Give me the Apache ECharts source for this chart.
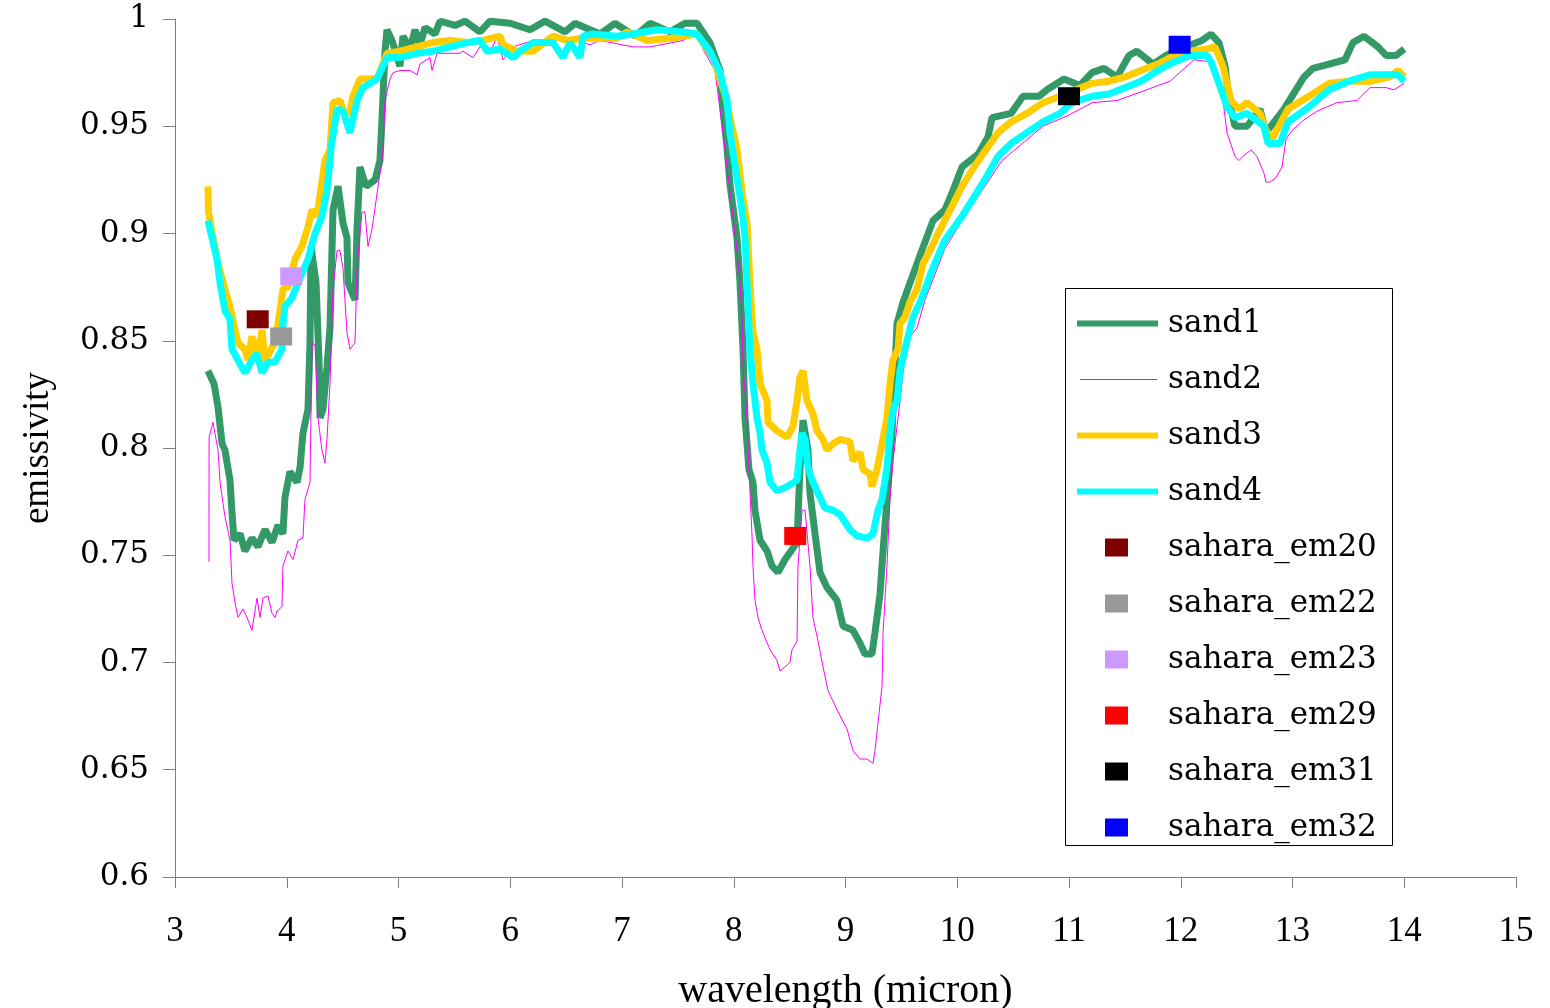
<!DOCTYPE html>
<html>
<head>
<meta charset="utf-8">
<title>sand emissivity</title>
<script src="https://cdn.jsdelivr.net/npm/echarts@6/dist/echarts.min.js"></script>
<style>
  html, body { margin: 0; padding: 0; background: #fff; }
  #chart { width: 1550px; height: 1008px; }
</style>
</head>
<body>
<div id="chart"></div>
<script>
// [wavelength (micron), emissivity]
const sand1 = [[3.295,.836],[3.349,.830],[3.385,.819],[3.421,.802],[3.447,.799],[3.492,.785],[3.510,.770],[3.528,.757],[3.582,.760],[3.626,.752],[3.689,.758],[3.743,.754],[3.805,.762],[3.868,.756],[3.922,.764],[3.966,.760],[3.984,.777],[4.029,.789],[4.092,.784],[4.119,.791],[4.145,.807],[4.190,.818],[4.208,.849],[4.217,.894],[4.262,.877],[4.289,.840],[4.298,.814],[4.324,.818],[4.360,.838],[4.387,.856],[4.414,.911],[4.459,.922],[4.503,.905],[4.539,.898],[4.548,.877],[4.611,.869],[4.629,.902],[4.655,.931],[4.709,.922],[4.790,.925],[4.834,.934],[4.852,.953],[4.879,.985],[4.897,.995],[4.942,.990],[5.013,.978],[5.040,.992],[5.103,.986],[5.148,.995],[5.192,.988],[5.237,.996],[5.327,.993],[5.371,.999],[5.506,.997],[5.595,.999],[5.729,.994],[5.819,.999],[5.998,.998],[6.177,.995],[6.311,.999],[6.490,.994],[6.579,.998],[6.803,.993],[6.937,.998],[7.116,.992],[7.251,.998],[7.430,.994],[7.564,.998],[7.671,.998],[7.787,.989],[7.877,.976],[7.904,.958],[7.940,.940],[7.966,.923],[8.029,.898],[8.056,.877],[8.083,.846],[8.101,.814],[8.136,.790],[8.172,.784],[8.190,.771],[8.235,.757],[8.298,.752],[8.342,.745],[8.396,.742],[8.459,.748],[8.566,.756],[8.593,.791],[8.620,.813],[8.664,.799],[8.682,.779],[8.727,.760],[8.772,.742],[8.834,.735],[8.924,.729],[8.978,.717],[9.067,.715],[9.130,.709],[9.174,.704],[9.237,.704],[9.264,.714],[9.309,.732],[9.336,.752],[9.371,.776],[9.416,.807],[9.461,.858],[9.515,.868],[9.577,.877],[9.676,.891],[9.783,.906],[9.890,.911],[9.962,.920],[10.043,.931],[10.186,.937],[10.275,.945],[10.311,.954],[10.481,.956],[10.588,.964],[10.732,.964],[10.803,.967],[10.955,.972],[11.098,.969],[11.206,.975],[11.313,.977],[11.430,.973],[11.537,.983],[11.608,.985],[11.752,.979],[11.868,.983],[11.993,.986],[12.190,.990],[12.271,.993],[12.342,.989],[12.396,.978],[12.432,.962],[12.485,.950],[12.593,.950],[12.709,.958],[12.763,.947],[12.924,.958],[13.103,.973],[13.183,.977],[13.327,.979],[13.470,.981],[13.541,.989],[13.640,.992],[13.765,.987],[13.837,.983],[13.926,.983],[14.0,.986]]

const sand2 = [[3.304,.747],[3.305,.805],[3.340,.812],[3.385,.799],[3.403,.784],[3.447,.768],[3.492,.757],[3.510,.737],[3.537,.728],[3.564,.721],[3.608,.725],[3.644,.721],[3.689,.715],[3.716,.724],[3.734,.730],[3.761,.721],[3.787,.730],[3.832,.731],[3.868,.723],[3.895,.721],[3.913,.724],[3.957,.726],[3.966,.745],[4.011,.752],[4.056,.748],[4.101,.757],[4.145,.758],[4.163,.776],[4.208,.784],[4.226,.849],[4.253,.848],[4.280,.814],[4.315,.799],[4.342,.793],[4.360,.804],[4.387,.830],[4.414,.874],[4.450,.892],[4.477,.892],[4.503,.884],[4.521,.869],[4.539,.854],[4.566,.846],[4.611,.849],[4.629,.884],[4.673,.910],[4.700,.910],[4.727,.894],[4.763,.902],[4.790,.912],[4.817,.922],[4.852,.934],[4.861,.939],[4.879,.962],[4.924,.972],[4.951,.975],[5.013,.976],[5.103,.976],[5.166,.974],[5.192,.979],[5.282,.982],[5.300,.976],[5.345,.984],[5.550,.984],[5.577,.985],[5.667,.982],[5.729,.987],[5.819,.984],[5.881,.992],[5.935,.981],[6.025,.987],[6.204,.990],[6.266,.989],[6.508,.991],[6.714,.988],[6.803,.990],[7.098,.987],[7.251,.987],[7.546,.990],[7.671,.994],[7.725,.986],[7.832,.976],[7.904,.947],[7.940,.931],[7.993,.908],[8.029,.892],[8.056,.877],[8.074,.861],[8.083,.838],[8.119,.814],[8.136,.790],[8.163,.760],[8.172,.745],[8.190,.729],[8.217,.721],[8.253,.715],[8.324,.706],[8.387,.701],[8.414,.696],[8.459,.698],[8.503,.700],[8.521,.706],[8.566,.710],[8.575,.745],[8.611,.771],[8.638,.771],[8.682,.745],[8.709,.721],[8.754,.710],[8.799,.698],[8.843,.687],[8.924,.678],[9.013,.669],[9.067,.659],[9.130,.655],[9.192,.655],[9.246,.653],[9.264,.659],[9.291,.672],[9.327,.689],[9.336,.714],[9.371,.745],[9.398,.776],[9.425,.794],[9.488,.822],[9.515,.835],[9.550,.850],[9.640,.856],[9.711,.869],[9.890,.893],[10.043,.906],[10.400,.934],[10.767,.950],[10.991,.955],[11.206,.961],[11.430,.962],[11.644,.966],[11.796,.969],[11.904,.971],[12.011,.976],[12.119,.981],[12.271,.980],[12.342,.970],[12.378,.962],[12.414,.947],[12.485,.936],[12.521,.934],[12.557,.936],[12.629,.939],[12.682,.936],[12.745,.928],[12.763,.924],[12.799,.924],[12.852,.926],[12.906,.931],[12.942,.944],[12.996,.948],[13.103,.953],[13.219,.957],[13.398,.961],[13.577,.962],[13.694,.968],[13.837,.968],[13.908,.967],[14.0,.970]]

const sand3 = [[3.295,.922],[3.300,.910],[3.340,.898],[3.385,.886],[3.447,.874],[3.492,.866],[3.537,.855],[3.564,.849],[3.626,.846],[3.653,.841],[3.689,.852],[3.743,.843],[3.779,.855],[3.805,.840],[3.868,.847],[3.895,.849],[3.940,.864],[3.966,.874],[4.011,.875],[4.074,.888],[4.136,.894],[4.190,.903],[4.226,.911],[4.271,.908],[4.315,.924],[4.342,.934],[4.387,.939],[4.414,.961],[4.477,.962],[4.521,.955],[4.566,.957],[4.593,.964],[4.655,.972],[4.808,.972],[4.861,.979],[4.897,.984],[5.013,.985],[5.309,.989],[5.461,.990],[5.613,.989],[5.756,.990],[5.908,.992],[5.935,.988],[6.060,.985],[6.204,.985],[6.383,.992],[6.508,.990],[6.651,.991],[6.803,.991],[6.955,.991],[7.045,.994],[7.224,.990],[7.430,.991],[7.671,.993],[7.814,.982],[7.922,.965],[8.029,.939],[8.083,.916],[8.119,.905],[8.145,.877],[8.172,.854],[8.208,.846],[8.235,.830],[8.298,.822],[8.306,.812],[8.387,.808],[8.477,.805],[8.530,.810],[8.566,.822],[8.593,.833],[8.620,.836],[8.655,.822],[8.709,.816],[8.745,.808],[8.799,.804],[8.834,.799],[8.888,.802],[8.951,.804],[9.040,.803],[9.067,.794],[9.130,.798],[9.157,.790],[9.219,.788],[9.237,.782],[9.282,.790],[9.327,.802],[9.371,.814],[9.398,.830],[9.425,.841],[9.470,.846],[9.488,.858],[9.532,.861],[9.577,.868],[9.640,.874],[9.694,.886],[9.756,.892],[9.819,.899],[9.926,.910],[10.043,.922],[10.150,.931],[10.257,.939],[10.365,.947],[10.481,.952],[10.624,.956],[10.767,.961],[10.919,.964],[11.063,.967],[11.206,.970],[11.358,.971],[11.501,.973],[11.644,.976],[11.796,.979],[11.940,.983],[12.083,.985],[12.235,.986],[12.306,.987],[12.378,.978],[12.450,.962],[12.521,.958],[12.593,.961],[12.709,.956],[12.763,.948],[12.817,.944],[12.960,.958],[13.148,.964],[13.327,.970],[13.506,.971],[13.694,.971],[13.872,.973],[13.944,.976],[14.0,.973]]

const sand4 = [[3.295,.906],[3.331,.898],[3.376,.888],[3.403,.877],[3.447,.864],[3.492,.860],[3.510,.846],[3.564,.841],[3.626,.835],[3.689,.841],[3.734,.844],[3.779,.835],[3.832,.840],[3.895,.840],[3.957,.846],[3.966,.858],[3.984,.866],[4.047,.870],[4.101,.877],[4.190,.888],[4.253,.900],[4.315,.908],[4.360,.920],[4.387,.934],[4.396,.940],[4.450,.958],[4.503,.957],[4.566,.947],[4.629,.962],[4.682,.968],[4.808,.972],[4.897,.982],[5.013,.982],[5.166,.984],[5.309,.985],[5.461,.987],[5.613,.989],[5.729,.990],[5.792,.985],[5.908,.986],[6.025,.982],[6.087,.985],[6.204,.989],[6.383,.989],[6.472,.982],[6.535,.989],[6.624,.982],[6.651,.992],[6.740,.993],[6.955,.992],[7.098,.993],[7.313,.995],[7.546,.994],[7.671,.993],[7.787,.985],[7.877,.975],[7.940,.962],[7.966,.947],[8.029,.926],[8.074,.911],[8.101,.898],[8.119,.877],[8.145,.846],[8.172,.830],[8.208,.814],[8.235,.807],[8.253,.799],[8.298,.793],[8.324,.784],[8.387,.780],[8.477,.782],[8.566,.785],[8.593,.799],[8.611,.807],[8.638,.804],[8.664,.791],[8.709,.784],[8.772,.777],[8.817,.772],[8.888,.771],[8.951,.769],[9.040,.762],[9.103,.759],[9.192,.758],[9.246,.760],[9.291,.771],[9.327,.776],[9.371,.791],[9.398,.807],[9.425,.818],[9.461,.822],[9.488,.836],[9.550,.850],[9.604,.861],[9.676,.869],[9.783,.884],[9.890,.897],[10.043,.908],[10.150,.917],[10.257,.926],[10.365,.936],[10.481,.942],[10.624,.947],[10.767,.952],[10.919,.956],[11.027,.961],[11.206,.964],[11.358,.965],[11.501,.968],[11.644,.971],[11.796,.976],[11.940,.980],[12.083,.983],[12.235,.983],[12.271,.980],[12.342,.970],[12.414,.959],[12.485,.954],[12.593,.956],[12.673,.953],[12.745,.950],[12.781,.942],[12.888,.942],[12.960,.952],[13.148,.959],[13.327,.967],[13.506,.971],[13.694,.974],[13.872,.974],[13.944,.974],[14.0,.971]]

// single MODIS-like points
const saharaNames = ['sahara_em20', 'sahara_em22', 'sahara_em23', 'sahara_em29', 'sahara_em31', 'sahara_em32']
const saharaX = [3.74, 3.95, 4.04, 8.55, 11.0, 11.99]
const saharaY = [0.860, 0.852, 0.880, 0.759, 0.964, 0.988]
const saharaColors = ['#800000', '#999999', '#cc99ff', '#ff0000', '#000000', '#0000ff']

const sandNames = ['sand1', 'sand2', 'sand3', 'sand4']
const sandData = [sand1, sand2, sand3, sand4]
const sandColors = ['#339966', '#ff00ff', '#ffcc00', '#00ffff']
const sandWidths = [7, 1, 7, 7]

// legend icons: same 86x18 frame so they line up with the text
const thickIcon = 'path://M0,0 M86,18 M0,6 L81,6 L81,12 L0,12 Z'
const thinIcon = 'path://M0,0 M86,18 M3,8.5 L80,8.5 L80,9.5 L3,9.5 Z'
const boxIcon = 'path://M0,0 M86,18 M28,0 L51,0 L51,18 L28,18 Z'

const chart = echarts.init(document.getElementById('chart'))

const series = sandNames.map((name, i) => ({
  name,
  type: 'line',
  data: sandData[i],
  symbol: 'none',
  lineStyle: { color: sandColors[i], width: sandWidths[i] },
  itemStyle: { color: sandColors[i] }
})).concat(saharaNames.map((name, i) => ({
  name,
  type: 'scatter',
  data: [[saharaX[i], saharaY[i]]],
  symbol: 'rect',
  symbolSize: [22, 18],
  itemStyle: { color: saharaColors[i], opacity: 1 },
  z: 5
})))

const legendData = sandNames.map((name, i) => ({
  name, icon: sandWidths[i] > 1 ? thickIcon : thinIcon
})).concat(saharaNames.map(name => ({ name, icon: boxIcon })))

const option = {
  animation: false,
  backgroundColor: '#ffffff',
  grid: { left: 175, right: 34, top: 19, bottom: 131, containLabel: false, outerBoundsMode: 'none' },
  xAxis: {
    type: 'value',
    min: 3,
    max: 15,
    interval: 1,
    name: 'wavelength (micron)',
    nameLocation: 'middle',
    nameGap: 94,
    nameTextStyle: { fontFamily: 'Liberation Serif', fontSize: 40, color: '#000' },
    axisLine: { lineStyle: { color: '#808080', width: 1 } },
    axisTick: { length: 11, lineStyle: { color: '#808080' } },
    axisLabel: { fontFamily: 'Liberation Serif', fontSize: 35, color: '#000', margin: 37 },
    splitLine: { show: false }
  },
  yAxis: {
    type: 'value',
    min: 0.6,
    max: 1,
    interval: 0.05,
    name: 'emissivity',
    nameLocation: 'middle',
    nameGap: 118,
    nameTextStyle: { fontFamily: 'Liberation Serif', fontSize: 37, color: '#000' },
    axisLine: { show: true, lineStyle: { color: '#808080', width: 1 } },
    axisTick: { show: true, length: 12, lineStyle: { color: '#808080' } },
    axisLabel: { fontFamily: 'DejaVu Serif', fontSize: 31, color: '#000', margin: 26 },
    splitLine: { show: false }
  },
  legend: {
    orient: 'vertical',
    left: 1077,
    top: 308,
    padding: 0,
    itemWidth: 86,
    itemHeight: 18,
    itemGap: 25,
    selectedMode: false,
    itemStyle: { borderWidth: 0 },
    textStyle: { fontFamily: 'DejaVu Serif', fontSize: 31, color: '#000' },
    data: legendData
  },
  graphic: [{
    type: 'rect',
    shape: { x: 1065.5, y: 288.5, width: 327, height: 557 },
    style: { fill: 'none', stroke: '#000', lineWidth: 1 },
    z: 100
  }],
  series
}

chart.setOption(option)
</script>
</body>
</html>
